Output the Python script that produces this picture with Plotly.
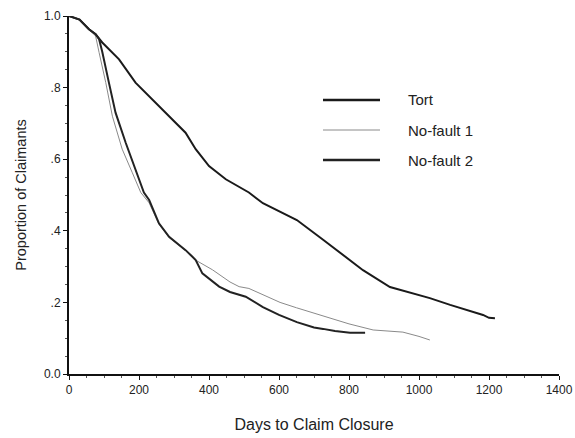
import plotly.graph_objects as go

# ---- data ----
tort_days = [0, 30, 57, 76, 95, 143, 190, 238, 286, 333, 362, 400, 448, 514, 554, 600, 651, 726, 780, 840, 917, 946, 1000, 1031, 1089, 1150, 1183, 1200, 1217]
tort_prop = [1.0, 0.99, 0.963, 0.949, 0.926, 0.879, 0.814, 0.767, 0.72, 0.674, 0.628, 0.581, 0.544, 0.507, 0.477, 0.455, 0.43, 0.375, 0.335, 0.29, 0.243, 0.235, 0.222, 0.212, 0.193, 0.175, 0.165, 0.157, 0.156]

nf1_days = [0, 30, 57, 76, 86, 105, 124, 152, 181, 205, 229, 257, 286, 333, 362, 410, 460, 486, 514, 560, 603, 650, 700, 746, 800, 869, 910, 954, 1000, 1031]
nf1_prop = [1.0, 0.99, 0.963, 0.944, 0.898, 0.814, 0.72, 0.628, 0.562, 0.507, 0.478, 0.418, 0.381, 0.345, 0.318, 0.291, 0.257, 0.244, 0.239, 0.218, 0.2, 0.185, 0.17, 0.156, 0.14, 0.123, 0.12, 0.117, 0.105, 0.095]

nf2_days = [0, 30, 57, 76, 86, 95, 114, 133, 162, 190, 214, 229, 257, 286, 333, 352, 362, 381, 429, 460, 505, 554, 600, 651, 700, 726, 760, 803, 846]
nf2_prop = [1.0, 0.99, 0.963, 0.949, 0.935, 0.900, 0.814, 0.73, 0.646, 0.572, 0.507, 0.486, 0.421, 0.383, 0.346, 0.328, 0.318, 0.281, 0.244, 0.229, 0.216, 0.187, 0.165, 0.145, 0.13, 0.126, 0.12, 0.115, 0.115]

y_tickvals = [0.0, 0.2, 0.4, 0.6, 0.8, 1.0]
y_ticktext = ["0.0", ".2", ".4", ".6", ".8", "1.0"]
x_tickvals = [0, 200, 400, 600, 800, 1000, 1200, 1400]

series = [
    ("Tort", tort_days, tort_prop, "#1a1a1a", 2.0),
    ("No-fault 1", nf1_days, nf1_prop, "#8a8a8a", 1.0),
    ("No-fault 2", nf2_days, nf2_prop, "#222222", 2.0),
]

fig = go.Figure()
for name, xs, ys, col, w in series:
    fig.add_trace(go.Scatter(x=xs, y=ys, mode="lines", name=name,
                             line=dict(color=col, width=w), cliponaxis=False,
                             showlegend=False))

# custom legend (paper coordinates)
W, H = 575, 438
L, R, T, B = 69, 16, 16, 64
pw, ph = W - L - R, H - T - B
def px2paper(px, py):
    return (px - L) / pw, (H - B - py) / ph

legend_y = [100, 130, 160]
for (name, xs, ys, col, w), ly in zip(series, legend_y):
    x0, y0 = px2paper(323, ly)
    x1, _ = px2paper(380, ly)
    fig.add_shape(type="line", xref="paper", yref="paper", x0=x0, x1=x1, y0=y0, y1=y0,
                  line=dict(color=col, width=w + (0.5 if w > 1 else 0)))
    tx, _ = px2paper(406, ly)
    fig.add_annotation(xref="paper", yref="paper", x=tx, y=y0, text=name, showarrow=False,
                       xanchor="left", yanchor="middle",
                       font=dict(family="Liberation Sans, Arial", size=15, color="#222"))

fig.update_layout(
    width=W, height=H,
    margin=dict(l=L, r=R, t=T, b=B),
    paper_bgcolor="white", plot_bgcolor="white",
    font=dict(family="Liberation Sans, Arial", size=12, color="#222"),
    showlegend=False,
)
fig.update_xaxes(range=[0, 1400], tickvals=x_tickvals, showgrid=False, zeroline=False,
                 automargin=False,
                 showline=True, linecolor="#111", linewidth=2, ticks="outside", ticklen=4,
                 tickcolor="#111", tickwidth=1,
                 minor=dict(ticks="outside", ticklen=2, dtick=50, tickcolor="#555"),
                 title=dict(text="Days to Claim Closure", standoff=22,
                            font=dict(size=16)))
fig.update_yaxes(range=[0, 1.0], tickvals=y_tickvals, ticktext=y_ticktext, showgrid=False,
                 automargin=False,
                 zeroline=False, showline=True, linecolor="#111", linewidth=2,
                 ticks="outside", ticklen=4, tickcolor="#111", tickwidth=1,
                 minor=dict(ticks="outside", ticklen=2, dtick=0.05, tickcolor="#555"),
                 title=dict(text="Proportion of Claimants", standoff=14,
                            font=dict(size=14.5)))

fig.write_html("out.html")
